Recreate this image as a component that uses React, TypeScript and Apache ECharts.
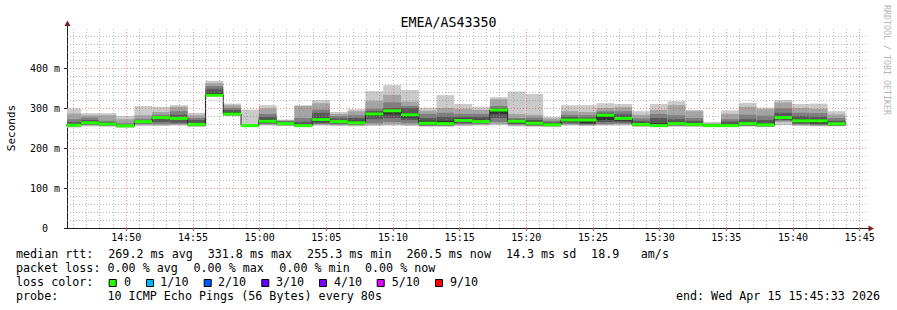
import React, { useEffect, useRef } from "react";
import * as echarts from "echarts";

// ---------- data ----------
const chartTitle = "EMEA/AS43350";
const rangeStart = "14:45:33";
const rangeEnd = "15:45:33";
const stepStarts = [
  "14:45:16", "14:46:36", "14:47:56", "14:49:16", "14:50:36", "14:51:56", "14:53:16", "14:54:36",
  "14:55:56", "14:57:16", "14:58:36", "14:59:56", "15:01:16", "15:02:36", "15:03:56", "15:05:16",
  "15:06:36", "15:07:56", "15:09:16", "15:10:36", "15:11:56", "15:13:16", "15:14:36", "15:15:56",
  "15:17:16", "15:18:36", "15:19:56", "15:21:16", "15:22:36", "15:23:56", "15:25:16", "15:26:36",
  "15:27:56", "15:29:16", "15:30:36", "15:31:56", "15:33:16", "15:34:36", "15:35:56", "15:37:16",
  "15:38:36", "15:39:56", "15:41:16", "15:42:36",
];
const lastStepEnd = "15:43:56";

// median rtt (ms) per step
const medianRtt = [257, 263, 260, 255.3, 266, 276, 274, 259, 331.8, 285, 256, 267, 261, 256, 271, 266, 263, 285, 293, 283, 262, 261, 269, 266, 295, 267, 262, 258, 270, 270, 282, 274, 259, 256, 261, 259, 256, 256, 261, 258, 276, 268, 268, 260.5];

// the 10 pings of each step, sorted (ping1 = fastest ... ping10 = slowest), ms
const ping1 = [251, 254, 253, 251, 255, 255, 256, 253, 329, 280, 252, 256, 255, 252, 256, 255, 254, 255, 256, 255, 253, 253, 255, 256, 257, 254, 253, 252, 256, 255, 256, 256, 253, 252, 253, 253, 252, 252, 253, 252, 257, 255, 254, 254];
const ping2 = [253, 256, 255, 252, 258, 257, 258, 254, 329.5, 281, 253, 258, 256, 253, 258, 257, 256, 258, 259, 258, 255, 255, 257, 258, 260, 256, 255, 254, 258, 257, 258, 259, 254, 253, 255, 254, 253, 253, 255, 253, 265, 257, 256, 255];
const ping3 = [254, 258, 256, 253, 260, 260, 260, 255, 330, 282, 254, 260, 257, 254, 260, 259, 258, 262, 265, 262, 256, 256, 260, 260, 265, 258, 256, 255, 260, 258, 260, 261, 255, 254, 256, 255, 254, 254, 256, 254, 268, 259, 257, 256];
const ping4 = [255, 259, 257, 254, 262, 265, 263, 256, 330.5, 283, 255, 262, 258, 255, 262, 261, 259, 272, 275, 270, 257, 257, 262, 262, 275, 260, 257, 256, 263, 260, 265, 264, 256, 255, 257, 256, 255, 255, 257, 255, 270, 261, 259, 257];
const ping5 = [256, 261, 258, 254.5, 264, 272, 270, 257, 331, 284, 255.5, 264, 259, 255.5, 266, 263, 261, 280, 284, 276, 259, 259, 265, 264, 285, 263, 259, 257, 266, 262, 270, 268, 257, 255.5, 259, 257, 255.5, 255.5, 259, 256, 272, 264, 262, 258];
const ping6 = [260, 266, 263, 257, 268, 278, 277, 262, 338, 290, 256, 272, 264, 260, 276, 270, 268, 288, 296, 287, 268, 268, 274, 271, 298, 270, 266, 261, 274, 272, 285, 278, 263, 262, 265, 263, 258, 260, 265, 262, 280, 272, 272, 263];
const ping7 = [265, 270, 265, 258, 270, 280, 283, 270, 348, 295, 256, 278, 266, 265, 288, 274, 275, 292, 300, 300, 275, 278, 278, 278, 300, 272, 270, 264, 278, 276, 288, 284, 268, 275, 272, 268, 259, 266, 272, 270, 288, 280, 278, 268];
const ping8 = [272, 276, 268, 262, 273, 283, 292, 275, 355, 300, 257, 285, 268, 275, 296, 280, 282, 298, 314, 305, 285, 288, 285, 285, 305, 275, 276, 268, 283, 282, 292, 292, 274, 285, 282, 275, 260, 272, 283, 281, 299, 288, 287, 275];
const ping9 = [286, 282, 282, 272, 282, 290, 303, 282, 362, 307, 258, 299, 269, 305, 312, 285, 292, 318, 333, 316, 293, 300, 298, 295, 322, 285, 283, 274, 292, 290, 300, 302, 283, 295, 307, 292, 262, 285, 303, 297, 314, 300, 298, 284];
const ping10 = [299, 287, 287, 280, 305, 303, 307, 288, 368, 311, 296, 307, 271, 307, 320, 290, 297, 342, 357, 345, 301, 332, 310, 303, 327, 341, 335, 278, 307, 307, 312, 310, 292, 310, 317, 295, 265, 294, 313, 301, 320, 310, 311, 292];

const xTickLabels = ["14:50", "14:55", "15:00", "15:05", "15:10", "15:15", "15:20", "15:25", "15:30", "15:35", "15:40", "15:45"];
const yMin = 0;
const yMax = 500;
const yStep = 100;

const lossLabels = ["0", "1/10", "2/10", "3/10", "4/10", "5/10", "9/10"];
const lossColors = ["#26ff00", "#00b8ff", "#0059ff", "#5e00ff", "#7e00ff", "#dd00ff", "#ff0000"];
const smokeShades = ["#cacaca", "#a4a4a4", "#7e7e7e", "#585858", "#323232"];

const statsRow1 = ["median rtt:", "269.2 ms avg", "331.8 ms max", "255.3 ms min", "260.5 ms now", "14.3 ms sd", "18.9", "am/s"];
const statsRow2 = ["packet loss:", "0.00 % avg", "0.00 % max", "0.00 % min", "0.00 % now"];
const lossTitle = "loss color:";
const probeRow = ["probe:", "10 ICMP Echo Pings (56 Bytes) every 80s"];
const endText = "end: Wed Apr 15 15:45:33 2026";
const watermark = "RRDTOOL / TOBI OETIKER";

// ---------- helpers ----------
const BASE = 14 * 3600 + 45 * 60;
function toSec(hms: string): number {
  const p = hms.split(":").map(Number);
  return p[0] * 3600 + p[1] * 60 + (p[2] || 0) - BASE;
}

const MONO = '"DejaVu Sans Mono", monospace';

function buildOption() {
  const tMin = toSec(rangeStart);
  const tMax = toSec(rangeEnd);
  const starts = stepStarts.map(toSec);
  const ends = starts.slice(1).concat([toSec(lastStepEnd)]);
  const pings = [ping1, ping2, ping3, ping4, ping5, ping6, ping7, ping8, ping9, ping10];
  const tickSecs = xTickLabels.map((l) => toSec(l));

  const smokeData: number[][] = [];
  for (let k = 0; k < starts.length; k++) {
    for (let b = 0; b < 5; b++) {
      smokeData.push([starts[k], ends[k], pings[b][k], pings[9 - b][k], b]);
    }
  }
  const medianBand = starts.map((s, k) => [s, ends[k], medianRtt[k]]);
  const medianLine = starts.map((s, k) => [s, medianRtt[k]]);
  medianLine.push([ends[ends.length - 1], medianRtt[medianRtt.length - 1]]);

  const minorGrid = { type: [1, 2], color: "rgba(143,143,143,0.65)", width: 1 };
  const majorGrid = { type: [1, 2], color: "rgba(222,79,79,0.6)", width: 1 };
  const gridLines: any[] = [];
  for (let v = yMin + 20; v < yMax; v += 20) {
    gridLines.push({ yAxis: v, lineStyle: v % yStep === 0 ? majorGrid : minorGrid });
  }
  for (let s = 60; s <= tMax; s += 60) {
    if (s <= tMin) continue;
    gridLines.push({ xAxis: s, lineStyle: s % 300 === 0 ? majorGrid : minorGrid });
  }

  const clipRect = (params: any, x0: number, x1: number) => {
    const cs = params.coordSys;
    return [Math.max(x0, cs.x), Math.min(x1, cs.x + cs.width)];
  };

  const textEl = (text: string, x: number, y: number, extra: any = {}) => ({
    type: "text",
    x,
    y,
    silent: true,
    style: {
      text,
      font: '11.7px "DejaVu Sans Mono"',
      fill: "#000",
      textAlign: "left",
      textVerticalAlign: "middle",
      align: "left",
      verticalAlign: "middle",
      ...extra,
    },
  });

  const row1X = [16, 108.3, 207.7, 307.1, 406.5, 505.9, 591.1, 640.8];
  const row2X = [16, 107.5, 193.5, 279.3, 365];
  const boxX = [108.7, 146, 203.7, 261.3, 319, 376.7, 435];
  const boxLabelX = [124, 160.3, 218, 276, 334, 391.7, 450];

  const graphic: any[] = [];
  statsRow1.forEach((t, i) => graphic.push(textEl(t, row1X[i], 254.3)));
  statsRow2.forEach((t, i) => graphic.push(textEl(t, row2X[i], 268.3)));
  graphic.push(textEl(lossTitle, 16, 282.3));
  lossLabels.forEach((t, i) => {
    graphic.push({
      type: "rect",
      silent: true,
      shape: { x: boxX[i] + 0.5, y: 279.5, width: 7, height: 7 },
      style: { fill: lossColors[i], stroke: "#000", lineWidth: 1 },
    });
    graphic.push(textEl(t, boxLabelX[i], 282.3));
  });
  graphic.push(textEl(probeRow[0], 16, 296));
  graphic.push(textEl(probeRow[1], 107.5, 296));
  graphic.push(textEl(endText, 880, 296, { textAlign: "right", align: "right" }));
  graphic.push({
    type: "text",
    x: 886.5,
    y: 60,
    rotation: -Math.PI / 2,
    silent: true,
    style: {
      text: watermark,
      font: '8.3px "DejaVu Sans Mono"',
      fill: "#b4b4b4",
      textAlign: "center",
      textVerticalAlign: "middle",
      align: "center",
      verticalAlign: "middle",
    },
  });
  // axis arrows
  graphic.push({ type: "line", silent: true, shape: { x1: 67.5, y1: 28, x2: 67.5, y2: 25 }, style: { stroke: "#1f1f1f", lineWidth: 1 } });
  graphic.push({ type: "polygon", silent: true, shape: { points: [[67.5, 20.5], [64.5, 26], [70.5, 26]] }, style: { fill: "#801f1f" } });
  graphic.push({ type: "line", silent: true, shape: { x1: 867, y1: 228.5, x2: 869, y2: 228.5 }, style: { stroke: "#1f1f1f", lineWidth: 1 } });
  graphic.push({ type: "polygon", silent: true, shape: { points: [[874, 228.5], [868.5, 225.5], [868.5, 231.5]] }, style: { fill: "#801f1f" } });

  return {
    animation: false,
    backgroundColor: "#ffffff",
    title: {
      text: chartTitle,
      left: "center",
      top: 11,
      textStyle: { fontFamily: MONO, fontSize: 13.3, fontWeight: "normal", color: "#000" },
    },
    grid: { left: 67, top: 28, width: 800, height: 200, containLabel: false, outerBoundsMode: "none" },
    xAxis: {
      type: "value",
      min: tMin,
      max: tMax,
      axisLine: { show: true, lineStyle: { color: "#1f1f1f", width: 1 } },
      axisTick: { show: true, customValues: tickSecs, length: 3, lineStyle: { color: "#de4f4f" } },
      axisLabel: {
        customValues: tickSecs,
        formatter: (v: number) => {
          const i = tickSecs.indexOf(v);
          return i >= 0 ? xTickLabels[i] : "";
        },
        margin: 4,
        fontFamily: MONO,
        fontSize: 10,
        color: "#000",
      },
      splitLine: { show: false },
    },
    yAxis: {
      type: "value",
      min: yMin,
      max: yMax,
      interval: yStep,
      name: "Seconds",
      nameLocation: "middle",
      nameRotate: 90,
      nameGap: 50,
      nameTextStyle: { fontFamily: MONO, fontSize: 11, color: "#000" },
      axisLine: { show: true, lineStyle: { color: "#1f1f1f", width: 1 } },
      axisTick: { show: true, length: 3, lineStyle: { color: "#1f1f1f" } },
      axisLabel: {
        showMaxLabel: false,
        formatter: (v: number) => (v === 0 ? "{z|0}" : v >= yMax ? "" : `${v} m`),
        margin: 7,
        fontFamily: MONO,
        fontSize: 10,
        color: "#000",
        rich: { z: { fontFamily: MONO, fontSize: 10, color: "#000", padding: [0, 12, 0, 0] } },
      },
      splitLine: { show: false },
    },
    series: [
      {
        type: "custom",
        name: "smoke",
        z: 2,
        silent: true,
        encode: { x: [0, 1], y: [2, 3] },
        data: smokeData,
        renderItem: (params: any, api: any) => {
          const a = api.coord([api.value(0), api.value(3)]);
          const b = api.coord([api.value(1), api.value(2)]);
          const [l, r] = clipRect(params, a[0], b[0]);
          if (r <= l) return null;
          return {
            type: "rect",
            shape: { x: l, y: a[1], width: r - l, height: Math.max(b[1] - a[1], 0.6) },
            style: { fill: smokeShades[api.value(4)] },
          };
        },
      },
      {
        type: "line",
        name: "grid",
        z: 3,
        silent: true,
        data: [],
        markLine: {
          silent: true,
          symbol: ["none", "none"],
          label: { show: false },
          emphasis: { disabled: true },
          animation: false,
          data: gridLines,
        },
      },
      {
        type: "line",
        name: "median",
        z: 4,
        silent: true,
        step: "end",
        showSymbol: false,
        data: medianLine,
        lineStyle: { color: "#202020", width: 1 },
      },
      {
        type: "custom",
        name: "loss",
        z: 5,
        silent: true,
        encode: { x: [0, 1], y: 2 },
        data: medianBand,
        renderItem: (params: any, api: any) => {
          const a = api.coord([api.value(0), api.value(2)]);
          const b = api.coord([api.value(1), api.value(2)]);
          const [l, r] = clipRect(params, a[0], b[0]);
          if (r <= l) return null;
          return {
            type: "rect",
            shape: { x: l, y: a[1] - 1.5, width: r - l, height: 3 },
            style: { fill: lossColors[0] },
          };
        },
      },
    ],
    graphic,
  };
}

export default function App() {
  const ref = useRef<HTMLDivElement>(null);
  useEffect(() => {
    if (!ref.current) return;
    const chart = echarts.init(ref.current, null, { renderer: "svg", width: 897, height: 310 });
    chart.setOption(buildOption() as any);
    return () => chart.dispose();
  }, []);
  return (
    <div
      ref={ref}
      style={{ position: "fixed", left: 0, top: 0, width: 897, height: 310, background: "#fff" }}
    />
  );
}
